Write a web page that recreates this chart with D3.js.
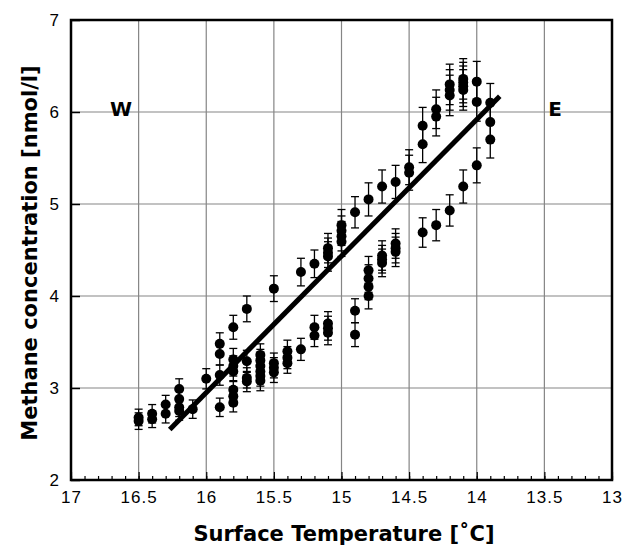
<!DOCTYPE html>
<html><head><meta charset="utf-8">
<script src="https://cdn.jsdelivr.net/npm/d3@7"></script>
<style>body{margin:0;background:#fff}svg{display:block}</style>
</head><body>
<script>
const temps = [
 16.5,16.5, 16.4,16.4, 16.3,16.3, 16.2,16.2,16.2,16.2, 16.1, 16.0,
 15.9,15.9,15.9,15.9, 15.8,15.8,15.8,15.8,15.8,15.8,15.8,
 15.7,15.7,15.7,15.7, 15.6,15.6,15.6,15.6,15.6,15.6,
 15.5,15.5,15.5,15.5, 15.4,15.4,15.4, 15.3,15.3, 15.2,15.2,15.2,
 15.1,15.1,15.1,15.1,15.1,15.1, 15.0,15.0,15.0,15.0, 14.9,14.9,14.9,
 14.8,14.8,14.8,14.8,14.8, 14.7,14.7,14.7,14.7, 14.6,14.6,14.6,14.6,
 14.5,14.5, 14.4,14.4,14.4, 14.3,14.3,14.3, 14.2,14.2,14.2,14.2,
 14.1,14.1,14.1,14.1,14.1, 14.0,14.0,14.0, 13.9,13.9,13.9];
const methane = [
 2.64,2.68, 2.66,2.72, 2.72,2.82, 2.99,2.88,2.79,2.75, 2.77, 3.10,
 3.48,3.37,3.14,2.79, 3.66,3.31,3.24,3.18,2.98,2.91,2.84,
 3.86,3.29,3.11,3.07, 3.36,3.30,3.24,3.18,3.13,3.08,
 4.08,3.27,3.22,3.17, 3.40,3.33,3.27, 4.26,3.42, 4.35,3.66,3.57,
 4.52,4.47,4.43,3.70,3.65,3.60, 4.77,4.71,4.65,4.59, 4.91,3.84,3.58,
 5.05,4.28,4.19,4.10,4.00, 5.19,4.44,4.40,4.36, 5.24,4.57,4.52,4.48,
 5.40,5.34, 5.85,5.65,4.69, 6.03,5.95,4.77, 6.30,6.24,6.18,4.93,
 6.36,6.32,6.28,6.24,5.19, 6.33,6.11,5.42, 6.10,5.89,5.70];
const errors = [
 0.09,0.09, 0.09,0.10, 0.10,0.10, 0.11,0.10,0.10,0.10, 0.10, 0.11,
 0.12,0.12,0.11,0.10, 0.13,0.12,0.11,0.11,0.10,0.10,0.10,
 0.14,0.12,0.11,0.11, 0.12,0.12,0.11,0.11,0.11,0.11,
 0.14,0.11,0.11,0.11, 0.12,0.12,0.11, 0.15,0.12, 0.15,0.13,0.12,
 0.16,0.16,0.16,0.13,0.13,0.13, 0.17,0.16,0.16,0.16, 0.17,0.13,0.13,
 0.18,0.15,0.15,0.14,0.14, 0.18,0.16,0.15,0.15, 0.18,0.16,0.16,0.16,
 0.19,0.19, 0.20,0.20,0.16, 0.21,0.21,0.17, 0.22,0.22,0.22,0.17,
 0.22,0.22,0.22,0.22,0.18, 0.22,0.21,0.19, 0.21,0.21,0.20];
const fitTemps = [16.27, 13.83];
const fitMethane = [2.55, 6.17];
const xTicks = [17, 16.5, 16, 15.5, 15, 14.5, 14, 13.5, 13];
const yTicks = [2, 3, 4, 5, 6, 7];
const xTitle = "Surface Temperature [˚C]";
const yTitle = "Methane concentration [nmol/l]";

const W = 625, H = 545;
const m = {left: 71, right: 13, top: 20, bottom: 65};
const svg = d3.select("body").append("svg").attr("width", W).attr("height", H);
const x = d3.scaleLinear().domain([17, 13]).range([m.left, W - m.right]);
const y = d3.scaleLinear().domain([2, 7]).range([H - m.bottom, m.top]);
const x0 = x.range()[0], x1 = x.range()[1], y0 = y.range()[0], y1 = y.range()[1];

// grid
const g = svg.append("g");
g.selectAll(".gx").data(xTicks.slice(1, -1)).join("line")
  .attr("x1", d => x(d)).attr("x2", d => x(d)).attr("y1", y1).attr("y2", y0)
  .attr("stroke", "#858585").attr("stroke-width", 1.2);
g.selectAll(".gy").data(yTicks.slice(1, -1)).join("line")
  .attr("y1", d => y(d)).attr("y2", d => y(d)).attr("x1", x0).attr("x2", x1)
  .attr("stroke", "#858585").attr("stroke-width", 1.2);

// axes with inward ticks
const tickFont = "'Liberation Sans', Arial, sans-serif";
const xAxis = d3.axisBottom(x).tickValues(d3.range(130, 171).map(v => v / 10)).tickSize(-4).tickFormat("");
svg.append("g").attr("transform", `translate(0,${y0})`).call(xAxis)
  .call(s => s.select(".domain").remove())
  .call(s => s.selectAll("line").attr("stroke", "#000").attr("stroke-width", 1.2));
const xAxisMajor = d3.axisBottom(x).tickValues(xTicks).tickSize(-8).tickPadding(10).tickFormat(d => String(d));
svg.append("g").attr("transform", `translate(0,${y0})`).call(xAxisMajor)
  .call(s => s.select(".domain").remove())
  .call(s => s.selectAll("line").attr("stroke", "#000").attr("stroke-width", 1.2))
  .call(s => s.selectAll("text").attr("font-family", tickFont).attr("font-size", 17).attr("letter-spacing", 1).attr("fill", "#000").attr("dy", "0.75em").attr("y", 10));
const yAxis = d3.axisLeft(y).tickValues(yTicks).tickSize(-9).tickPadding(12).tickFormat(d => String(d));
svg.append("g").attr("transform", `translate(${x0},0)`).call(yAxis)
  .call(s => s.select(".domain").remove())
  .call(s => s.selectAll("line").attr("stroke", "#000").attr("stroke-width", 1.5))
  .call(s => s.selectAll("text").attr("font-family", tickFont).attr("font-size", 17).attr("fill", "#000"));

// frame
svg.append("rect").attr("x", x0).attr("y", y1).attr("width", x1 - x0).attr("height", y0 - y1)
  .attr("fill", "none").attr("stroke", "#000").attr("stroke-width", 2.5);

// data
const pts = temps.map((t, i) => ({t, v: methane[i], e: errors[i]}));
const eb = svg.append("g").attr("stroke", "#000").attr("stroke-width", 1.3);
pts.forEach(p => {
  const cx = x(p.t);
  eb.append("line").attr("x1", cx).attr("x2", cx).attr("y1", y(p.v - p.e)).attr("y2", y(p.v + p.e));
  eb.append("line").attr("x1", cx - 4).attr("x2", cx + 4).attr("y1", y(p.v - p.e)).attr("y2", y(p.v - p.e));
  eb.append("line").attr("x1", cx - 4).attr("x2", cx + 4).attr("y1", y(p.v + p.e)).attr("y2", y(p.v + p.e));
});
svg.append("g").selectAll("circle").data(pts).join("circle")
  .attr("cx", d => x(d.t)).attr("cy", d => y(d.v)).attr("r", 5).attr("fill", "#000");

// fit line
const line = d3.line().x(d => x(d[0])).y(d => y(d[1]));
svg.append("path").datum(fitTemps.map((t, i) => [t, fitMethane[i]]))
  .attr("d", line).attr("stroke", "#000").attr("stroke-width", 5).attr("fill", "none");

// labels
const boldFont = "'DejaVu Sans', 'Liberation Sans', sans-serif";
svg.append("text").attr("x", x(16.63)).attr("y", y(5.96)).attr("text-anchor", "middle")
  .attr("font-family", boldFont).attr("font-weight", "bold").attr("font-size", 20).text("W");
svg.append("text").attr("x", x(13.42)).attr("y", y(5.96)).attr("text-anchor", "middle")
  .attr("font-family", boldFont).attr("font-weight", "bold").attr("font-size", 20).text("E");
svg.append("text").attr("x", 344).attr("y", 541).attr("text-anchor", "middle")
  .attr("font-family", boldFont).attr("font-weight", "bold").attr("font-size", 21).text(xTitle);
svg.append("text").attr("transform", `translate(37,${(y0 + y1) / 2 + 3}) rotate(-90)`).attr("text-anchor", "middle")
  .attr("font-family", boldFont).attr("font-weight", "bold").attr("font-size", 21).text(yTitle);
</script>
</body></html>
